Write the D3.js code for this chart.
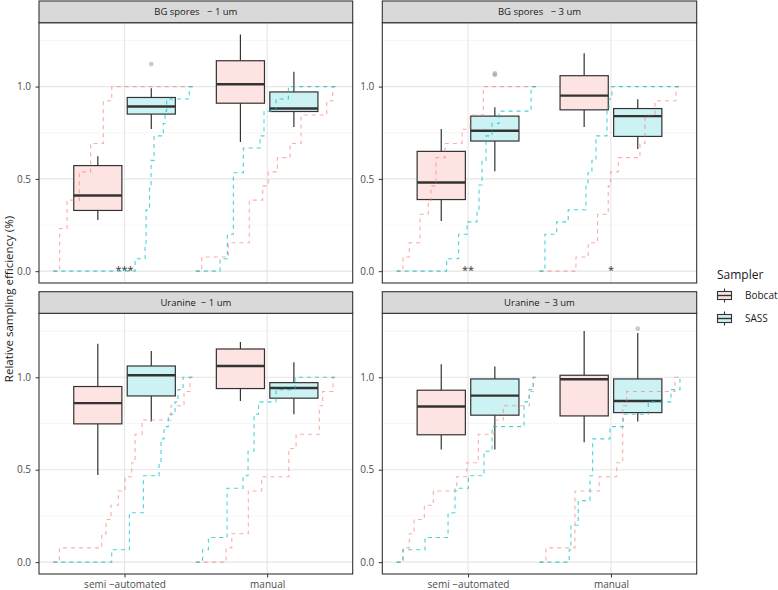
<!DOCTYPE html>
<html><head><meta charset="utf-8">
<script src="https://cdn.jsdelivr.net/npm/d3@7"></script>
<style>body{margin:0;background:#fff} text{font-family:"Open Sans",sans-serif}</style>
</head><body><svg id="c" width="778" height="590"></svg>
<script>
// ---------- data ----------
const panelTitles = ["BG spores   \u2212 1 um", "BG spores   \u2212 3 um", "Uranine  \u2212 1 um", "Uranine  \u2212 3 um"];
const methods = ["semi \u2212automated", "manual"];
const samplers = ["Bobcat", "SASS"];
const samplerColors = ["#F8766D", "#00BFC4"];
const yTickValues = [0, 0.5, 1.0];
const yMinorValues = [0.25, 0.75, 1.25];
const yDataMax = 1.282;

// box stats per panel, per method: [lower whisker, q1, median, q3, upper whisker]
const bobcatBox = [
  [[0.277, 0.329, 0.410, 0.572, 0.622], [0.700, 0.910, 1.013, 1.140, 1.282]],
  [[0.272, 0.388, 0.480, 0.649, 0.770], [0.781, 0.874, 0.951, 1.059, 1.180]],
  [[0.471, 0.748, 0.860, 0.950, 1.182], [0.872, 0.939, 1.061, 1.153, 1.191]],
  [[0.610, 0.689, 0.842, 0.930, 1.070], [0.649, 0.791, 0.989, 1.011, 1.250]]
];
const sassBox = [
  [[0.770, 0.851, 0.892, 0.941, 0.991], [0.781, 0.865, 0.881, 0.971, 1.081]],
  [[0.541, 0.705, 0.761, 0.840, 0.888], [0.662, 0.730, 0.840, 0.881, 0.932]],
  [[0.761, 0.899, 1.011, 1.061, 1.142], [0.800, 0.887, 0.942, 0.971, 1.081]],
  [[0.610, 0.795, 0.901, 0.991, 1.059], [0.761, 0.809, 0.872, 0.991, 1.239]]
];
const bobcatOutliers = [[[], []], [[], []], [[], []], [[], []]];
const sassOutliers = [[[1.122], []], [[1.063, 1.071], []], [[], []], [[], [1.263]]];

// ECDF steps: [position on category axis, cumulative fraction after the step]
const bobcatEcdf = [
  [[[0.545,0.231],[0.597,0.385],[0.683,0.538],[0.762,0.692],[0.851,0.923],[0.910,1]],
   [[1.541,0.077],[1.728,0.154],[1.875,0.385],[1.969,0.462],[2.008,0.538],[2.072,0.615],[2.161,0.692],[2.238,0.846],[2.418,0.923],[2.460,1]]],
  [[[0.545,0.077],[0.589,0.154],[0.664,0.308],[0.722,0.385],[0.741,0.462],[0.776,0.615],[0.839,0.692],[0.958,0.769],[1.014,0.846],[1.107,1]],
   [[1.755,0.077],[1.841,0.154],[1.906,0.308],[1.981,0.462],[1.998,0.538],[2.051,0.615],[2.203,0.692],[2.238,0.846],[2.308,0.923],[2.455,1]]],
  [[[0.543,0.077],[0.840,0.154],[0.870,0.231],[0.905,0.308],[0.957,0.385],[1.004,0.462],[1.050,0.538],[1.074,0.692],[1.123,0.769],[1.326,0.846],[1.417,0.923],[1.459,1]],
   [[1.712,0.077],[1.752,0.154],[1.868,0.385],[1.962,0.462],[2.152,0.615],[2.203,0.692],[2.366,0.846],[2.389,0.923],[2.462,1]]],
  [[[0.547,0.077],[0.589,0.154],[0.622,0.231],[0.694,0.308],[0.757,0.385],[0.921,0.462],[0.991,0.538],[1.072,0.692],[1.182,0.769],[1.247,0.846],[1.429,0.923],[1.457,1]],
   [[1.545,0.077],[1.748,0.385],[1.918,0.462],[2.040,0.538],[2.082,0.846],[2.110,0.923],[2.448,1]]]
];
const sassEcdf = [
  [[[1.074,0.067],[1.144,0.133],[1.151,0.333],[1.175,0.467],[1.186,0.6],[1.207,0.733],[1.272,0.8],[1.284,0.867],[1.295,0.933],[1.454,1]],
   [[1.670,0.067],[1.721,0.2],[1.763,0.533],[1.833,0.667],[1.950,0.733],[1.978,0.867],[2.062,0.933],[2.149,1]]],
  [[[0.850,0.067],[0.934,0.2],[0.993,0.267],[1.063,0.333],[1.077,0.467],[1.098,0.6],[1.126,0.733],[1.168,0.8],[1.217,0.867],[1.441,1]],
   [[1.538,0.2],[1.620,0.267],[1.701,0.333],[1.825,0.467],[1.839,0.533],[1.867,0.6],[1.895,0.733],[1.972,0.867],[1.986,0.933],[2.007,1]]],
  [[[0.910,0.067],[1.034,0.267],[1.132,0.467],[1.242,0.533],[1.256,0.667],[1.277,0.733],[1.307,0.8],[1.354,0.867],[1.375,0.933],[1.410,1]],
   [[1.547,0.067],[1.588,0.133],[1.719,0.4],[1.831,0.467],[1.866,0.6],[1.908,0.8],[1.940,0.867],[2.062,0.933],[2.196,1]]],
  [[[0.543,0.067],[0.699,0.133],[0.860,0.267],[0.909,0.4],[1.002,0.467],[1.112,0.6],[1.168,0.733],[1.392,0.867],[1.427,0.933],[1.455,1]],
   [[1.708,0.067],[1.720,0.2],[1.771,0.333],[1.853,0.467],[1.872,0.667],[1.993,0.733],[2.086,0.8],[2.261,0.867],[2.420,0.933],[2.483,1]]]
];
const signifLabels = [["***", ""], ["**", "*"], ["", ""], ["", ""]];

// ---------- layout ----------
const svg = d3.select("#c");
const cols = [[39, 352.7], [382.3, 696.7]];
const rows = [{strip: 1, top: 22.7, bottom: 283}, {strip: 291.7, top: 313.3, bottom: 574}];
const yDomain = [-0.05 * yDataMax, yDataMax * 1.05];
const dodge = 0.1875, boxW = 0.3375;
const boxStats = [bobcatBox, sassBox];
const outliers = [bobcatOutliers, sassOutliers];
const ecdfs = [bobcatEcdf, sassEcdf];
const fills = ["#FDE4E2", "#CCF2F3"];
const ecdfStroke = ["rgba(248,118,109,0.6)", "rgba(0,191,196,0.7)"];

panelTitles.forEach((title, p) => {
  const [x0, x1] = cols[p % 2];
  const r = rows[Math.floor(p / 2)];
  const x = d3.scaleLinear().domain([0.4, 2.6]).range([x0, x1]);
  const y = d3.scaleLinear().domain(yDomain).range([r.bottom, r.top]);
  const g = svg.append("g");

  // grid
  g.selectAll(".mi").data(yMinorValues).join("line")
    .attr("x1", x0).attr("x2", x1).attr("y1", d => y(d)).attr("y2", d => y(d))
    .attr("stroke", "#f0f0f0").attr("stroke-width", 0.6);
  g.selectAll(".mj").data(yTickValues).join("line")
    .attr("x1", x0).attr("x2", x1).attr("y1", d => y(d)).attr("y2", d => y(d))
    .attr("stroke", "#e6e6e6").attr("stroke-width", 1.1);
  g.selectAll(".vx").data([1, 2]).join("line")
    .attr("x1", d => x(d)).attr("x2", d => x(d)).attr("y1", r.top).attr("y2", r.bottom)
    .attr("stroke", "#e6e6e6").attr("stroke-width", 1.1);

  // boxes
  samplers.forEach((s, si) => {
    methods.forEach((m, mi) => {
      const st = boxStats[si][p][mi];
      const cx = (mi + 1) + (si === 0 ? -dodge : dodge);
      const bg = g.append("g");
      bg.append("line").attr("x1", x(cx)).attr("x2", x(cx)).attr("y1", y(st[0])).attr("y2", y(st[1]))
        .attr("stroke", "#333").attr("stroke-width", 1.2);
      bg.append("line").attr("x1", x(cx)).attr("x2", x(cx)).attr("y1", y(st[3])).attr("y2", y(st[4]))
        .attr("stroke", "#333").attr("stroke-width", 1.2);
      bg.append("rect").attr("x", x(cx - boxW / 2)).attr("width", x(cx + boxW / 2) - x(cx - boxW / 2))
        .attr("y", y(st[3])).attr("height", y(st[1]) - y(st[3]))
        .attr("fill", fills[si]).attr("stroke", "#333").attr("stroke-width", 1.2);
      bg.append("line").attr("x1", x(cx - boxW / 2)).attr("x2", x(cx + boxW / 2))
        .attr("y1", y(st[2])).attr("y2", y(st[2])).attr("stroke", "#333").attr("stroke-width", 2.4);
      bg.selectAll("circle").data(outliers[si][p][mi]).join("circle")
        .attr("cx", x(cx)).attr("cy", d => y(d)).attr("r", 2.4).attr("fill", "rgba(150,150,150,0.5)");
    });
  });

  // ECDF step lines
  const line = d3.line().x(d => x(d[0])).y(d => y(d[1])).curve(d3.curveStepAfter);
  samplers.forEach((s, si) => {
    methods.forEach((m, mi) => {
      const c = mi + 1;
      const pts = [[c - 0.5, 0]].concat(ecdfs[si][p][mi]).concat([[c + 0.5, 1]]);
      g.append("path").attr("d", line(pts)).attr("fill", "none")
        .attr("stroke", ecdfStroke[si]).attr("stroke-width", 1.1).attr("stroke-dasharray", "4,4");
    });
  });

  // significance
  methods.forEach((m, mi) => {
    if (signifLabels[p][mi]) {
      g.append("text").attr("x", x(mi + 1)).attr("y", y(0) + 3).attr("text-anchor", "middle")
        .attr("font-size", 11).attr("fill", "#333").text(signifLabels[p][mi]);
    }
  });

  // border
  g.append("rect").attr("x", x0).attr("y", r.top).attr("width", x1 - x0).attr("height", r.bottom - r.top)
    .attr("fill", "none").attr("stroke", "#333").attr("stroke-width", 1.1);
  // strip
  g.append("rect").attr("x", x0).attr("y", r.strip).attr("width", x1 - x0).attr("height", r.top - r.strip)
    .attr("fill", "#d9d9d9").attr("stroke", "#333").attr("stroke-width", 1.1);
  g.append("text").attr("x", (x0 + x1) / 2).attr("y", (r.strip + r.top) / 2).attr("dy", "0.35em")
    .attr("text-anchor", "middle").attr("font-size", 9.5).attr("fill", "#1a1a1a")
    .style("white-space", "pre").attr("xml:space", "preserve").text(title);

  // y axis
  const ya = g.append("g").attr("transform", `translate(${x0},0)`)
    .call(d3.axisLeft(y).tickValues(yTickValues).tickFormat(d3.format(".1f")).tickSize(3.5).tickPadding(4.5));
  ya.select(".domain").remove();
  ya.selectAll("line").attr("stroke", "#333");
  ya.selectAll("text").attr("fill", "#4d4d4d").attr("font-size", 10).attr("font-family", "Open Sans");

  // x axis (bottom row only)
  if (Math.floor(p / 2) === 1) {
    const xa = g.append("g").attr("transform", `translate(0,${r.bottom})`)
      .call(d3.axisBottom(x).tickValues([1, 2]).tickFormat((d, i) => methods[i]).tickSize(3.5).tickPadding(3));
    xa.select(".domain").remove();
    xa.selectAll("line").attr("stroke", "#333");
    xa.selectAll("text").attr("fill", "#4d4d4d").attr("font-size", 10).attr("font-family", "Open Sans");
  }
});

// y title
svg.append("text").attr("transform", "translate(12.5,299) rotate(-90)").attr("text-anchor", "middle")
  .attr("font-size", 11.5).attr("fill", "#1a1a1a").text("Relative sampling efficiency (%)");

// legend
const lg = svg.append("g");
lg.append("text").attr("x", 717).attr("y", 279).attr("font-size", 12).attr("fill", "#1a1a1a").text("Sampler");
samplers.forEach((s, i) => {
  const cy = 295.5 + i * 23;
  const kx0 = 717.5, kx1 = 731.5, kc = (kx0 + kx1) / 2;
  lg.append("line").attr("x1", kc).attr("x2", kc).attr("y1", cy - 7).attr("y2", cy + 7).attr("stroke", "#333").attr("stroke-width", 1.1);
  lg.append("rect").attr("x", kx0).attr("y", cy - 4).attr("width", kx1 - kx0).attr("height", 8)
    .attr("fill", fills[i]).attr("stroke", "#333").attr("stroke-width", 1.1);
  lg.append("line").attr("x1", kx0).attr("x2", kx1).attr("y1", cy).attr("y2", cy).attr("stroke", "#333").attr("stroke-width", 1.4);
  lg.append("text").attr("x", 745).attr("y", cy).attr("dy", "0.35em").attr("font-size", 10).attr("fill", "#1a1a1a").text(s);
});
</script></body></html>
